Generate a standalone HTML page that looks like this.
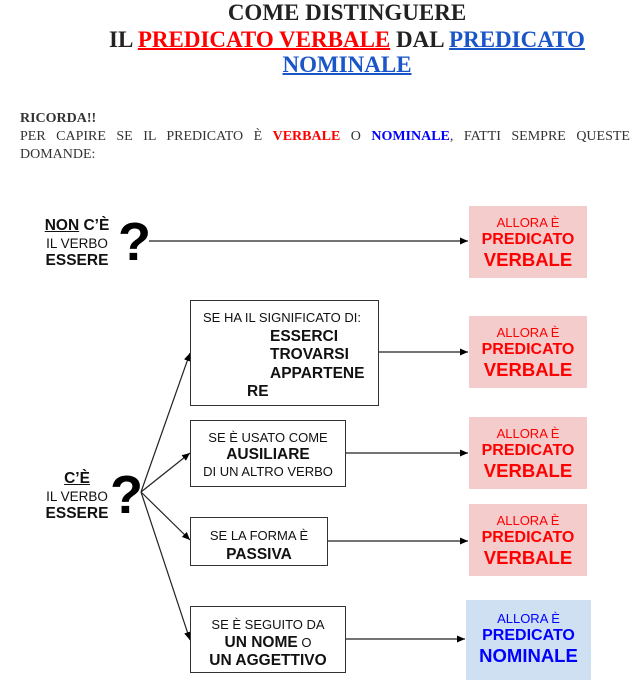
<!DOCTYPE html>
<html><head><meta charset="utf-8"><style>
body{margin:0;width:643px;height:696px;background:#fff;position:relative;overflow:hidden;font-family:"Liberation Sans",sans-serif;}
.t{position:absolute;white-space:nowrap}
.title{font-family:"Liberation Serif",serif;font-weight:bold;font-size:23px;color:#222;left:0;width:694px;text-align:center}
.r{color:#f00;text-decoration:underline;text-decoration-thickness:2px}
.b{color:#1a56c8;text-decoration:underline;text-decoration-thickness:2px}
.p{font-family:"Liberation Serif",serif;font-size:14px;color:#333}
.box{position:absolute;border:1.3px solid #333;background:#fff;box-sizing:border-box;font-size:13px;color:#111;text-align:center;overflow:hidden;line-height:17px}
.box b{font-size:15.5px}
.res{position:absolute;background:#f4cccc;color:#f00;text-align:center;box-sizing:border-box}
.res .a{font-size:13px;margin-top:9px;line-height:16px}
.res .c{font-size:16px;font-weight:bold;line-height:18px}
.res .d{font-size:18.5px;font-weight:bold;line-height:22px}
.q{position:absolute;font-weight:bold;font-size:54px;line-height:54px}
.lab{position:absolute;text-align:center;font-size:13.5px;line-height:17.5px;color:#111}
.lab b{font-size:15.5px}
</style></head><body>
<div class="t title" style="top:0;line-height:26px">COME DISTINGUERE</div>
<div class="t title" style="top:27px;line-height:26px">IL <span class="r">PREDICATO VERBALE</span> DAL <span class="b">PREDICATO</span></div>
<div class="t title" style="top:52px;line-height:26px"><span class="b">NOMINALE</span></div>
<div class="t p" style="left:20px;top:111px;font-weight:bold">RICORDA!!</div>
<div class="p" style="position:absolute;left:20px;top:128px;width:610px;line-height:18px"><div style="text-align:justify;text-align-last:justify">PER CAPIRE SE IL PREDICATO È <b style="color:#f00">VERBALE</b> O <b style="color:#00f">NOMINALE</b>, FATTI SEMPRE QUESTE</div>DOMANDE:</div>

<div class="lab" style="left:36px;top:217px;width:82px"><b><u>NON</u> C’È</b><br>IL VERBO<br><b>ESSERE</b></div>
<div class="q" style="left:118px;top:215px">?</div>
<div class="lab" style="left:36px;top:470px;width:82px"><b><u>C’È</u></b><br>IL VERBO<br><b>ESSERE</b></div>
<div class="q" style="left:110px;top:468px">?</div>

<svg style="position:absolute;left:0;top:0" width="643" height="696">
<defs><marker id="m" markerWidth="8" markerHeight="8" refX="8" refY="4" orient="auto" markerUnits="userSpaceOnUse"><path d="M0,0.5L8,4L0,7.5z" fill="#000"/></marker></defs>
<g stroke="#222" stroke-width="1.2" fill="none" marker-end="url(#m)">
<line x1="149" y1="241" x2="468" y2="241"/>
<line x1="378" y1="352" x2="468" y2="352"/>
<line x1="345" y1="453" x2="468" y2="453"/>
<line x1="327" y1="541" x2="468" y2="541"/>
<line x1="345" y1="639" x2="465" y2="639"/>
<line x1="141" y1="492" x2="190" y2="353"/>
<line x1="141" y1="492" x2="190" y2="453"/>
<line x1="141" y1="492" x2="190" y2="540"/>
<line x1="141" y1="492" x2="190" y2="640"/>
</g></svg>

<div class="box" style="left:190px;top:300px;width:189px;height:106px;text-align:left;padding:8px 0 0 12px;line-height:18.5px"><span>SE HA IL SIGNIFICATO DI:</span><br><b style="padding-left:67px">ESSERCI</b><br><b style="padding-left:67px">TROVARSI</b><br><b style="padding-left:67px">APPARTENE</b><br><b style="padding-left:44px">RE</b></div>
<div class="box" style="left:190px;top:420px;width:156px;height:67px;padding-top:8px">SE È USATO COME<br><b>AUSILIARE</b><br>DI UN ALTRO VERBO</div>
<div class="box" style="left:190px;top:517px;width:138px;height:49px;padding-top:8px;line-height:19px"><div style="height:40px;overflow:hidden">SE LA FORMA È<br><b>PASSIVA</b></div></div>
<div class="box" style="left:190px;top:606px;width:156px;height:67px;padding-top:9px;line-height:18px"><div style="height:49px;overflow:hidden">SE È SEGUITO DA<br><b>UN NOME</b> O<br><b>UN AGGETTIVO</b></div></div>

<div class="res" style="left:469px;top:206px;width:118px;height:72px"><div class="a">ALLORA È</div><div class="c">PREDICATO</div><div class="d">VERBALE</div></div>
<div class="res" style="left:469px;top:316px;width:118px;height:72px"><div class="a">ALLORA È</div><div class="c">PREDICATO</div><div class="d">VERBALE</div></div>
<div class="res" style="left:469px;top:417px;width:118px;height:72px"><div class="a">ALLORA È</div><div class="c">PREDICATO</div><div class="d">VERBALE</div></div>
<div class="res" style="left:469px;top:504px;width:118px;height:72px"><div class="a">ALLORA È</div><div class="c">PREDICATO</div><div class="d">VERBALE</div></div>
<div class="res" style="left:466px;top:600px;width:125px;height:80px;background:#cfe0f3;color:#00f"><div class="a" style="margin-top:11px">ALLORA È</div><div class="c">PREDICATO</div><div class="d">NOMINALE</div></div>
</body></html>
